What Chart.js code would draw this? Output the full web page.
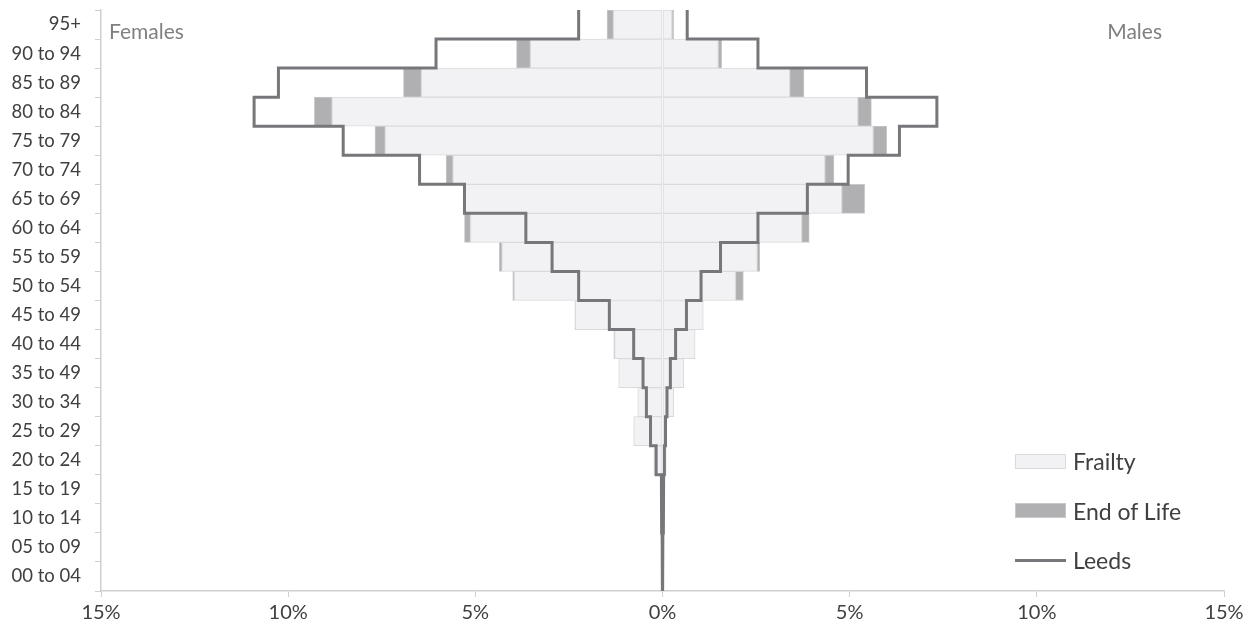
<!DOCTYPE html>
<html>
<head>
<meta charset="utf-8">
<script src="https://cdn.jsdelivr.net/npm/chart.js@4.4.1/dist/chart.umd.min.js"></script>
<style>
  body { margin: 0; background: #fff; }
  #wrap { position: relative; width: 1255px; height: 637px; }
  #legend { position: absolute; left: 1015px; top: 441px; font-family: Lato, sans-serif; font-size: 23px; color: #404040; }
  .item { display: flex; align-items: center; height: 40px; margin-bottom: 9.5px; }
  .sw { width: 51px; margin-right: 7px; box-sizing: border-box; }
</style>
</head>
<body>
<div id="wrap">
  <canvas id="mycanvas" width="1255" height="637"></canvas>
  <div id="legend"></div>
</div>
<script>
// age bands, top to bottom
var ageBands = ["95+", "90 to 94", "85 to 89", "80 to 84", "75 to 79", "70 to 74", "65 to 69",
  "60 to 64", "55 to 59", "50 to 54", "45 to 49", "40 to 44", "35 to 49", "30 to 34",
  "25 to 29", "20 to 24", "15 to 19", "10 to 14", "05 to 09", "00 to 04"];

// % of population, females shown on the left
var frailtyFemales = [1.31, 3.53, 6.44, 8.83, 7.41, 5.60, 5.27, 5.13, 4.29, 3.96, 2.33, 1.28, 1.17, 0.66, 0.77, 0.23, 0, 0, 0, 0];
var eolFemales     = [0.17, 0.37, 0.48, 0.47, 0.27, 0.18, 0.03, 0.16, 0.07, 0.04, 0.01, 0.02, 0, 0, 0, 0, 0, 0, 0, 0];
var leedsFemales   = [2.24, 6.05, 10.26, 10.91, 8.53, 6.49, 5.29, 3.65, 2.95, 2.24, 1.42, 0.77, 0.52, 0.43, 0.32, 0.17, 0.03, 0.02, 0.01, 0];

var frailtyMales = [0.25, 1.49, 3.40, 5.22, 5.63, 4.34, 4.79, 3.72, 2.53, 1.95, 1.09, 0.87, 0.57, 0.30, 0.12, 0.10, 0, 0, 0, 0];
var eolMales     = [0.05, 0.09, 0.38, 0.36, 0.36, 0.24, 0.61, 0.20, 0.07, 0.21, 0, 0, 0, 0, 0, 0, 0, 0, 0, 0];
var leedsMales   = [0.66, 2.55, 5.45, 7.33, 6.33, 4.96, 3.87, 2.55, 1.55, 1.03, 0.64, 0.35, 0.21, 0.12, 0.08, 0.05, 0.03, 0.02, 0.01, 0];

var xTicks = [-15, -10, -5, 0, 5, 10, 15];

var frailtyColor = "#f2f2f4";
var eolColor = "#b0b0b3";
var leedsColor = "#77777b";
var font = "Lato";

// bar points : y is the band position (0 = top)
function bars(values, sign) {
    return values.map(function (v, i) { return { x: sign * v, y: i }; });
}

// step outline : each band drawn as a vertical run from its top edge to its bottom edge
function stepOutline(values, sign) {
    var pts = [];
    values.forEach(function (v, i) {
        pts.push({ x: sign * v, y: i - 0.5 });
        pts.push({ x: sign * v, y: i + 0.5 });
    });
    return pts;
}

var barCommon = {
    borderWidth: 1,
    borderSkipped: false,
    categoryPercentage: 1,
    barPercentage: 1,
    order: 2
};

var data = {
    datasets: [
        Object.assign({ label: "Frailty", data: bars(frailtyFemales, -1), backgroundColor: frailtyColor, borderColor: "#dadadc" }, barCommon),
        Object.assign({ label: "Frailty", data: bars(frailtyMales, 1), backgroundColor: frailtyColor, borderColor: "#dadadc", hideLegend: true }, barCommon),
        Object.assign({ label: "End of Life", data: bars(eolFemales, -1), backgroundColor: eolColor, borderColor: "#c8c8ca" }, barCommon),
        Object.assign({ label: "End of Life", data: bars(eolMales, 1), backgroundColor: eolColor, borderColor: "#c8c8ca", hideLegend: true }, barCommon),
        {
            type: "line",
            label: "Leeds",
            data: stepOutline(leedsFemales, -1),
            borderColor: leedsColor,
            borderWidth: 3,
            pointRadius: 0,
            fill: false,
            stack: "leedsF",
            order: 1
        },
        {
            type: "line",
            label: "Leeds",
            data: stepOutline(leedsMales, 1),
            borderColor: leedsColor,
            borderWidth: 3,
            pointRadius: 0,
            fill: false,
            stack: "leedsM",
            hideLegend: true,
            order: 1
        }
    ]
};

// "Females" / "Males" captions inside the plot
var sideLabels = {
    id: "sideLabels",
    afterDraw: function (chart) {
        var a = chart.chartArea, c = chart.ctx;
        c.save();
        c.font = "21px " + font;
        c.fillStyle = "#808080";
        c.textBaseline = "alphabetic";
        c.textAlign = "left";
        c.fillText("Females", a.left + 8, a.top + 29);
        c.textAlign = "right";
        c.fillText("Males", a.right - 62, a.top + 29);
        c.restore();
    }
};

var options = {
    indexAxis: "y",
    responsive: false,
    animation: false,
    devicePixelRatio: 1,
    layout: { padding: { top: 10, right: 31, left: 0, bottom: 0 } },
    plugins: {
        legend: { display: false },
        tooltip: { enabled: false }
    },
    scales: {
        x: {
            type: "linear",
            min: -15,
            max: 15,
            stacked: true,
            afterBuildTicks: function (scale) {
                scale.ticks = xTicks.map(function (v) { return { value: v }; });
            },
            afterFit: function (scale) { scale.height = 46; },
            grid: { drawOnChartArea: false, tickLength: 6, color: "#d0d0d0" },
            border: { color: "#d0d0d0", width: 1.5 },
            ticks: {
                padding: 4,
                color: "#404040",
                font: { family: font, size: 20 },
                callback: function (v) { return Math.abs(v) + "%"; }
            }
        },
        y: {
            type: "linear",
            reverse: true,
            offset: false,
            min: -0.5,
            max: ageBands.length - 0.5,
            stacked: true,
            afterBuildTicks: function (scale) {
                scale.ticks = ageBands.map(function (b, i) { return { value: i }; });
            },
            afterFit: function (scale) {
                scale.width = 101;
                scale.paddingTop = 0;
                scale.paddingBottom = 0;
            },
            grid: { offset: true, drawOnChartArea: false, tickLength: 6, color: "#d0d0d0" },
            border: { color: "#d0d0d0", width: 1.5 },
            ticks: {
                padding: 14,
                color: "#404040",
                font: { family: font, size: 18.5 },
                autoSkip: false,
                callback: function (v) { return ageBands[v]; }
            }
        }
    }
};

var chart = new Chart(document.getElementById("mycanvas"), {
    type: "bar",
    data: data,
    options: options,
    plugins: [sideLabels]
});

// legend drawn as html in the bottom right of the plot
var legendEl = document.getElementById("legend");
chart.data.datasets.forEach(function (ds) {
    if (ds.hideLegend) return;
    var item = document.createElement("div");
    item.className = "item";
    var sw = document.createElement("div");
    sw.className = "sw";
    if (ds.type === "line") {
        sw.style.height = "3px";
        sw.style.background = ds.borderColor;
    } else {
        sw.style.height = "15px";
        sw.style.background = ds.backgroundColor;
        sw.style.border = "1px solid " + ds.borderColor;
    }
    var txt = document.createElement("span");
    txt.textContent = ds.label;
    item.appendChild(sw);
    item.appendChild(txt);
    legendEl.appendChild(item);
});
</script>
</body>
</html>
